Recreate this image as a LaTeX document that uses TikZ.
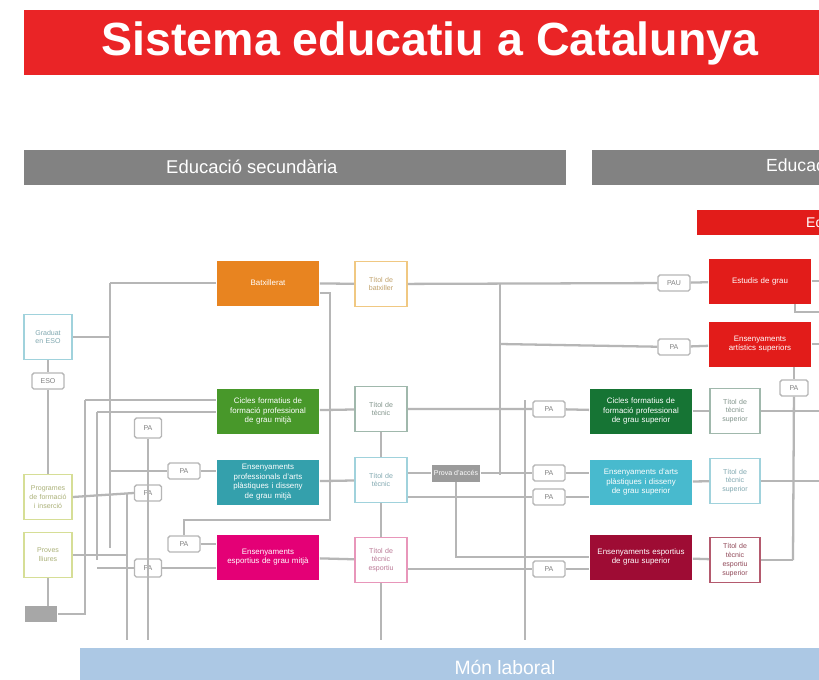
\documentclass[tikz,border=0pt]{standalone}
\usepackage{fontspec}
\setmainfont{Liberation Sans}
\usetikzlibrary{positioning}
\hyphenpenalty=10000
\exhyphenpenalty=10000

\definecolor{titlered}{RGB}{234,36,38}
\definecolor{bargray}{RGB}{130,130,130}
\definecolor{linegray}{RGB}{182,182,182}
\definecolor{batxcol}{RGB}{232,132,32}
\definecolor{gmgreen}{RGB}{72,152,42}
\definecolor{gmteal}{RGB}{52,160,172}
\definecolor{gmpink}{RGB}{228,0,118}
\definecolor{unired}{RGB}{226,28,26}
\definecolor{gsgreen}{RGB}{22,116,52}
\definecolor{gscyan}{RGB}{72,186,206}
\definecolor{gsred}{RGB}{158,12,52}
\definecolor{mlblue}{RGB}{172,200,228}
\definecolor{titorange}{RGB}{240,200,130}
\definecolor{titgray}{RGB}{160,184,172}
\definecolor{titcyan}{RGB}{160,210,220}
\definecolor{titpink}{RGB}{232,150,186}
\definecolor{tityellow}{RGB}{214,222,150}
\definecolor{titred}{RGB}{180,90,110}

\begin{document}
\begin{tikzpicture}
[x=0.02cm, y=-0.02cm,
prog/.style={rectangle, text=white, minimum width=2.06cm, minimum height=0.9cm, text width=1.9cm, align=center, inner sep=1pt, font=\fontsize{4.5}{5.5}\selectfont},
titol/.style={rectangle, draw=#1, line width=1pt, fill=white, text=#1!80!black, minimum width=1.04cm, minimum height=0.9cm, text width=0.86cm, align=center, inner sep=1pt, font=\fontsize{4}{5}\selectfont},
tag/.style={rectangle, rounded corners=1pt, draw=linegray, line width=0.8pt, fill=white, minimum width=0.64cm, minimum height=0.32cm, inner sep=0pt, font=\fontsize{4}{5}\selectfont, text=gray},
link/.style={draw=linegray, line width=1.3pt}]

\clip (0,0) rectangle (819,680);
\fill[white] (0,0) rectangle (819,680);

% capcaleres
\fill[titlered] (24,10) rectangle (830,75);
\node[text=white, font=\bfseries\fontsize{26.5}{30}\selectfont] (title) at (430,43) {Sistema educatiu a Catalunya};
\fill[bargray] (24,150) rectangle (566,185);
\node[text=white, font=\fontsize{10.5}{12}\selectfont, anchor=west] (secund) at (160,167) {Educació secundària};
\fill[bargray] (592,150) rectangle (830,185);
\node[text=white, font=\fontsize{10}{12}\selectfont, anchor=west] (superior) at (760,167) {Educació superior};
\fill[unired] (697,210) rectangle (830,235);
\node[text=white, font=\fontsize{8}{10}\selectfont, anchor=west] (univ) at (800,222) {Educació universitària};
\fill[mlblue] (80,648) rectangle (830,690);
\node[text=white, font=\fontsize{11}{13}\selectfont] (mon) at (505,667) {Món laboral};

% ensenyaments de grau mitja
\node[prog, fill=batxcol] (batx) at (268,283) {Batxillerat};
\node[titol=titorange] (titb) at (381,284) {Títol de batxiller};
\node[prog, fill=gmgreen] (cfgm) at (268,411) {Cicles formatius de formació professional de grau mitjà};
\node[titol=titgray] (tec1) at (381,409) {Títol de tècnic};
\node[prog, fill=gmteal] (apdm) at (268,482) {Ensenyaments professionals d'arts plàstiques i disseny de grau mitjà};
\node[titol=titcyan] (tec2) at (381,480) {Títol de tècnic};
\node[prog, fill=gmpink] (esgm) at (268,557) {Ensenyaments esportius de grau mitjà};
\node[titol=titpink] (tec3) at (381,560) {Títol de tècnic esportiu};

% ensenyaments superiors
\node[prog, fill=unired] (grau) at (760,281) {Estudis de grau};
\node[prog, fill=unired] (eas) at (760,344) {Ensenyaments artístics superiors};
\node[prog, fill=gsgreen] (cfgs) at (641,411) {Cicles formatius de formació professional de grau superior};
\node[titol=titgray, minimum width=1.0cm, text width=0.82cm] (sup1) at (735,411) {Títol de tècnic superior};
\node[prog, fill=gscyan] (apds) at (641,482) {Ensenyaments d'arts plàstiques i disseny de grau superior};
\node[titol=titcyan, minimum width=1.0cm, text width=0.82cm] (sup2) at (735,481) {Títol de tècnic superior};
\node[prog, fill=gsred] (esgs) at (641,557) {Ensenyaments esportius de grau superior};
\node[titol=titred, minimum width=1.0cm, text width=0.82cm] (sup3) at (735,560) {Títol de tècnic esportiu superior};
\node[rectangle, fill=bargray!80, text=white, minimum width=0.98cm, minimum height=0.34cm, inner sep=0pt, font=\fontsize{4}{5}\selectfont] (pacc) at (456,473) {Prova d'accés};

% columna esquerra
\node[titol=titcyan, minimum width=0.96cm, text width=0.8cm] (geso) at (48,337) {Graduat en ESO};
\node[tag] (eso) at (48,381) {ESO};
\node[titol=tityellow, minimum width=0.96cm, text width=0.8cm] (pfi) at (48,497) {Programes de formació i inserció};
\node[titol=tityellow, minimum width=0.96cm, text width=0.8cm] (plli) at (48,555) {Proves lliures};
\node[rectangle, fill=bargray!70, minimum width=0.66cm, minimum height=0.32cm, inner sep=0pt] (sense) at (41,614) {};

% proves i accessos
\node[tag] (tpau) at (674,283) {PAU};
\node[tag] (tpa1) at (674,347) {PA};
\node[tag, minimum width=0.56cm] (tpa2) at (794,388) {PA};
\node[tag] (tpa3) at (549,409) {PA};
\node[tag] (tpa4) at (549,473) {PA};
\node[tag] (tpa5) at (549,497) {PA};
\node[tag] (tpa6) at (549,569) {PA};
\node[tag, minimum width=0.54cm, minimum height=0.4cm] (tl1) at (148,428) {PA};
\node[tag, minimum width=0.54cm] (tl2) at (148,493) {PA};
\node[tag] (tl3) at (184,471) {PA};
\node[tag] (tl4) at (184,544) {PA};
\node[tag, minimum width=0.54cm, minimum height=0.36cm] (tl5) at (148,568) {PA};

% busos
\coordinate (b1t) at (110,283);
\coordinate (b1b) at (110,548);
\coordinate (b2t) at (85,400);
\coordinate (b2b) at (85,614);
\coordinate (b3t) at (97,412);
\coordinate (b3b) at (97,560);
\coordinate (b4t) at (127,493);
\coordinate (b4b) at (127,640);
\coordinate (b5b) at (152,640);
\coordinate (c1t) at (330,293);
\coordinate (c1b) at (330,520);
\coordinate (c2) at (184,520);
\coordinate (d1t) at (500,283);
\coordinate (d1b) at (500,475);
\coordinate (d2t) at (525,400);
\coordinate (d2b) at (525,640);
\coordinate (e1b) at (381,640);
\coordinate (r1b) at (793,560);
\coordinate (r2) at (795,312);
\coordinate (redge) at (819,312);

\draw[link] (b1t) -- (b1b);
\draw[link] (b1t) -- (batx.west);
\draw[link] (geso.east) -- (geso.east -| b1t);
\draw[link] (b2t) -- (b2b) -- (sense.east);
\draw[link] (b2t) -- (b2t -| cfgm.west);
\draw[link] (b3t) -- (b3b);
\draw[link] (b3t) -- (b3t -| cfgm.west);
\draw[link] (b4t) -- (b4b);
\draw[link] (tl1.south) -- (tl1.south |- b5b);
\draw[link] (pfi.east) -- (tl2.west);
\draw[link] (plli.east) -- (plli.east -| b4t);
\draw[link] (tl3 -| b1t) -- (tl3) -- (tl3 -| apdm.west);
\draw[link] (tl5 -| b3t) -- (tl5) -- (tl5 -| esgm.west);
\draw[link] (batx.east |- c1t) -- (c1t) -- (c1b) -- (c2) -- (tl4);
\draw[link] (tl4) -- (tl4 -| esgm.west);
\draw[link] (geso) -- (eso);
\draw[link] (eso) -- (pfi);
\draw[link] (plli.south) -- (plli.south |- sense.north);

\draw[link] (batx) -- (titb);
\draw[link] (titb) -- (tpau) -- (grau);
\draw[link] (d1t) -- (d1b);
\draw[link] (d2t) -- (d2b);
\draw[link] (d1t |- eas) -- (tpa1) -- (eas);
\draw[link] (cfgm) -- (tec1);
\draw[link] (tec1) -- (tpa3) -- (cfgs);
\draw[link] (apdm) -- (tec2);
\draw[link] (esgm) -- (tec3);
\draw[link] (tec1) -- (tec2);
\draw[link] (tec2) -- (tec3);
\draw[link] (tec3) -- (e1b);
\draw[link] (tec2.east |- pacc) -- (pacc);
\draw[link] (pacc) -- (tpa4) -- (tpa4 -| apds.west);
\draw[link] (tpa5 -| tec2.east) -- (tpa5) -- (tpa5 -| apds.west);
\draw[link] (pacc.south) |- (esgs.west);
\draw[link] (tpa6 -| tec3.east) -- (tpa6) -- (tpa6 -| esgs.west);

\draw[link] (cfgs) -- (sup1);
\draw[link] (apds) -- (sup2);
\draw[link] (esgs) -- (sup3);
\draw[link] (eas.south -| tpa2) -- (tpa2);
\draw[link] (tpa2) -- (r1b);
\draw[link] (sup1.east) -- (sup1.east -| redge);
\draw[link] (sup2.east) -- (sup2.east -| redge);
\draw[link] (sup3.east) -- (r1b);
\draw[link] (grau.east) -- (grau.east -| redge);
\draw[link] (eas.east) -- (eas.east -| redge);
\draw[link] (grau.south -| r2) -- (r2) -- (redge);
\end{tikzpicture}
\end{document}
